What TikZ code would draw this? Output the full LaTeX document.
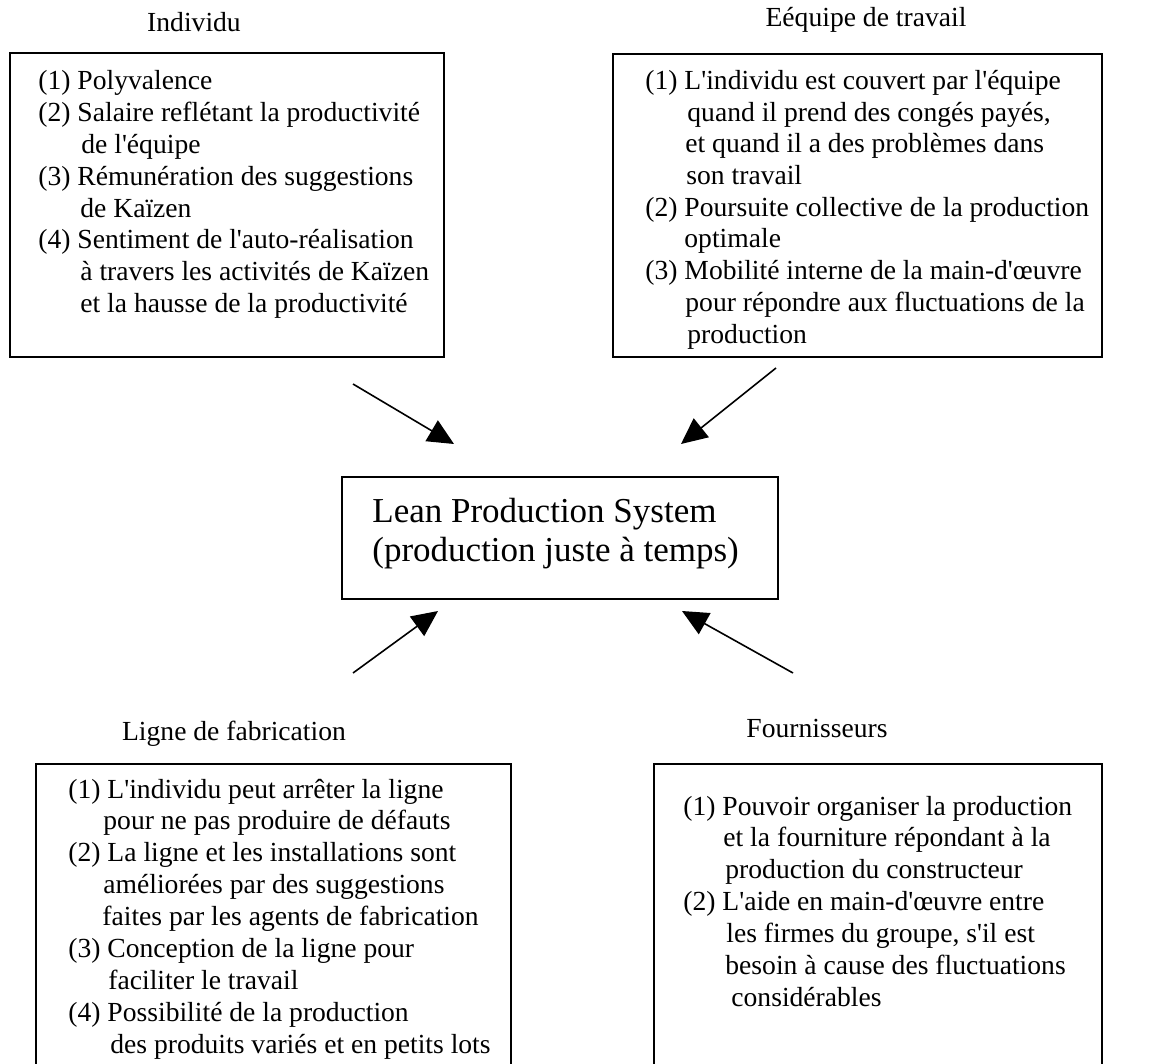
\documentclass[tikz,border=0pt]{standalone}
\usepackage{fontspec}
\setmainfont{Liberation Serif}
\usetikzlibrary{arrows.meta}
\newcommand{\ap}{\textquotesingle}
\begin{document}
\begin{tikzpicture}[x=0.5pt,y=-0.5pt,
  boxline/.style={draw=black, line width=1pt, rectangle, inner sep=0pt, anchor=north west},
  ln/.style={anchor=base west, inner sep=0pt, font=\fontsize{13.8}{15.9}\selectfont},
  ttl/.style={anchor=base, inner sep=0pt, font=\fontsize{13.8}{15.9}\selectfont},
  lean/.style={anchor=base west, inner sep=0pt, font=\fontsize{17.5}{19}\selectfont},
  arr/.style={line width=0.8pt, -{Triangle[length=13pt,width=12pt]}}]
\useasboundingbox (0,0) rectangle (1166,1064);
\clip (0,0) rectangle (1166,1064);

% boxes
\node[boxline, minimum width=217pt, minimum height=152pt] (indbox) at (9,52) {};
\node[boxline, minimum width=244.5pt, minimum height=151.5pt] (eqbox) at (612,53) {};
\node[boxline, minimum width=218pt, minimum height=61pt] (leanbox) at (341,476) {};
\node[boxline, minimum width=237.5pt, minimum height=160pt] (lignebox) at (35,763) {};
\node[boxline, minimum width=224pt, minimum height=160pt] (fourbox) at (653,763) {};

% titles
\node[ttl] (t1) at (194,32) {Individu};
\node[ttl] (t2) at (866,27) {Eéquipe de travail};
\node[ttl] (t3) at (234,740) {Ligne de fabrication};
\node[ttl] (t4) at (817,737) {Fournisseurs};

% Individu
\node[ln] (a1) at (38,89.5) {(1) Polyvalence};
\node[ln] (a2) at (38,121.4) {(2) Salaire reflétant la productivité};
\node[ln] (a3) at (81,153.3) {de l\ap équipe};
\node[ln] (a4) at (38,185.2) {(3) Rémunération des suggestions};
\node[ln] (a5) at (80,217.1) {de Kaïzen};
\node[ln] (a6) at (38,249) {(4) Sentiment de l\ap auto-réalisation};
\node[ln] (a7) at (80,280.9) {à travers les activités de Kaïzen};
\node[ln] (a8) at (80,312.8) {et la hausse de la productivité};

% Equipe
\node[ln] (b1) at (645,89.5) {(1) L\ap individu est couvert par l\ap équipe};
\node[ln] (b2) at (687,121.2) {quand il prend des congés payés,};
\node[ln] (b3) at (685,152.9) {et quand il a des problèmes dans};
\node[ln] (b4) at (686,184.6) {son travail};
\node[ln] (b5) at (645,216.3) {(2) Poursuite collective de la production};
\node[ln] (b6) at (684,248) {optimale};
\node[ln] (b7) at (645,279.7) {(3) Mobilité interne de la main-d\ap œuvre};
\node[ln] (b8) at (685,311.4) {pour répondre aux fluctuations de la};
\node[ln] (b9) at (687,343.1) {production};

% Lean
\node[lean] (l1) at (372,522) {Lean Production System};
\node[lean] (l2) at (372,561) {(production juste à temps)};

% Ligne
\node[ln] (c1) at (68,798) {(1) L\ap individu peut arrêter la ligne};
\node[ln] (c2) at (103,829.9) {pour ne pas produire de défauts};
\node[ln] (c3) at (68,861.8) {(2) La ligne et les installations sont};
\node[ln] (c4) at (103,893.7) {améliorées par des suggestions};
\node[ln] (c5) at (102,925.6) {faites par les agents de fabrication};
\node[ln] (c6) at (68,957.5) {(3) Conception de la ligne pour};
\node[ln] (c7) at (108,989.4) {faciliter le travail};
\node[ln] (c8) at (68,1021.3) {(4) Possibilité de la production};
\node[ln] (c9) at (110,1053.2) {des produits variés et en petits lots};

% Fournisseurs
\node[ln] (d1) at (683,815) {(1) Pouvoir organiser la production};
\node[ln] (d2) at (723,846.9) {et la fourniture répondant à la};
\node[ln] (d3) at (725,878.8) {production du constructeur};
\node[ln] (d4) at (683,910.7) {(2) L\ap aide en main-d\ap œuvre entre};
\node[ln] (d5) at (726,942.6) {les firmes du groupe, s\ap il est};
\node[ln] (d6) at (725,974.5) {besoin à cause des fluctuations};
\node[ln] (d7) at (731,1006.4) {considérables};

% arrows
\coordinate (tlS) at (353,384);   \coordinate (tlE) at (454,444);
\coordinate (trS) at (776,368);   \coordinate (trE) at (681,444);
\coordinate (blS) at (353,673);   \coordinate (blE) at (438,611);
\coordinate (brS) at (793,673);   \coordinate (brE) at (682,611);
\draw[arr] (tlS) -- (tlE);
\draw[arr] (trS) -- (trE);
\draw[arr] (blS) -- (blE);
\draw[arr] (brS) -- (brE);
\end{tikzpicture}
\end{document}
